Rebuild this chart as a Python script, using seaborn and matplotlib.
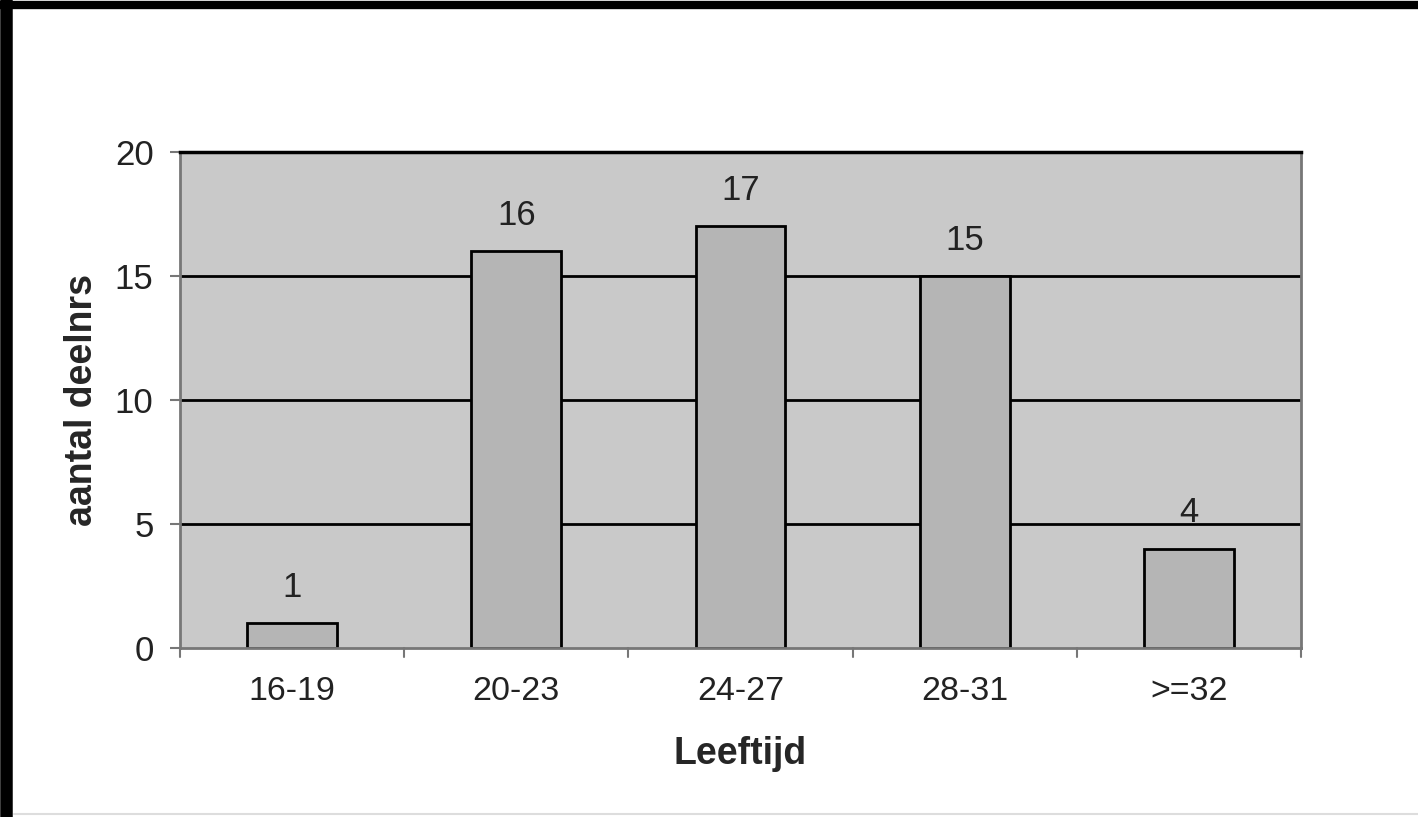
import matplotlib
matplotlib.use("Agg")
import matplotlib.pyplot as plt
import seaborn as sns
import pandas as pd
from matplotlib.lines import Line2D

# data
leeftijd = ["16-19", "20-23", "24-27", "28-31", ">=32"]
aantal = [1, 16, 17, 15, 4]
yticks = [0, 5, 10, 15, 20]

df = pd.DataFrame({"Leeftijd": leeftijd, "aantal": aantal})

sns.set_theme(style="white")
plt.rcParams["font.family"] = ["Liberation Sans", "DejaVu Sans"]

fig = plt.figure(figsize=(14.18, 8.17), dpi=100)
ax = fig.add_axes([0.1269, 0.2069, 0.7906, 0.607])
ax.set_facecolor("#c9c9c9")

# gridlines behind the bars
ax.set_axisbelow(True)
for y in yticks[1:]:
    ax.axhline(y, color="black", lw=2.0, zorder=0)

sns.barplot(data=df, x="Leeftijd", y="aantal", ax=ax, color="#b5b5b5",
            saturation=1, width=0.4, edgecolor="black", linewidth=2.0, zorder=2)

for i, v in enumerate(aantal):
    ax.annotate(str(v), (i, v), xytext=(0, 14), textcoords="offset points",
                ha="center", va="bottom", fontsize=25, color="#222222")

ax.set_xlim(-0.5, 4.5)
ax.set_ylim(0, 20)
ax.set_yticks(yticks)
ax.set_yticklabels([str(t) for t in yticks], fontsize=25, color="#222222")
ax.set_xticks(range(len(leeftijd)))
ax.set_xticklabels(leeftijd, fontsize=24.5, color="#222222")
ax.tick_params(axis="x", length=0, pad=20)
ax.tick_params(axis="y", length=7, width=1.5, color="#777777", left=True, pad=12)

# x ticks sit between the categories
for xb in [-0.5, 0.5, 1.5, 2.5, 3.5, 4.5]:
    ax.plot([xb, xb], [0, -0.35], color="#777777", lw=1.5, clip_on=False, zorder=3)

for s in ["left", "bottom", "right"]:
    ax.spines[s].set_color("#777777")
    ax.spines[s].set_linewidth(2.0)
ax.spines["top"].set_color("black")
ax.spines["top"].set_linewidth(2.5)

ax.set_xlabel("Leeftijd", fontsize=27, fontweight="bold", labelpad=21)
ax.set_ylabel("aantal deelnrs", fontsize=27, fontweight="bold", labelpad=11)

# scanned page frame: black left edge and top line
fig.add_artist(Line2D([0.004, 0.004], [0, 1], transform=fig.transFigure,
                      color="black", lw=9))
fig.add_artist(Line2D([0, 1], [0.9935, 0.9935], transform=fig.transFigure,
                      color="black", lw=6))
fig.add_artist(Line2D([0.01, 1], [0.004, 0.004], transform=fig.transFigure,
                      color="#dddddd", lw=1.5))

fig.savefig("out.png", dpi=100, facecolor="white")
